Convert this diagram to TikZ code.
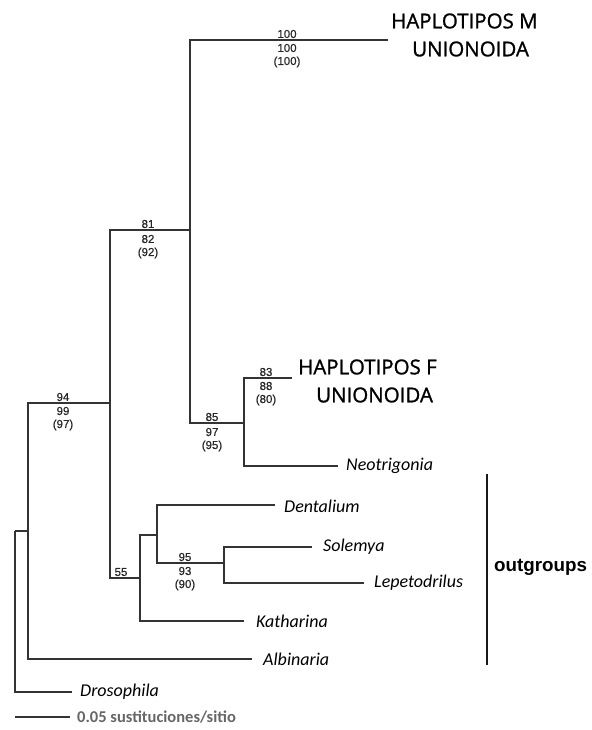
\documentclass[tikz,border=0pt]{standalone}
\usepackage{fontspec}
\setmainfont{Carlito}
\newfontfamily\hapfont[FakeBold=1.2]{Open Sans}
\newfontfamily\numfont[FakeBold=0.6]{Liberation Sans}
\newfontfamily\arialfont{Liberation Sans}
\begin{document}
\begin{tikzpicture}[x=1pt,y=-1pt,
  tree/.style={draw=black!80,line width=1.3pt},
  boot/.style={font=\numfont\fontsize{11.5}{11.5}\selectfont,inner sep=0pt,text=black!85},
  taxon/.style={anchor=west,inner sep=0pt,font=\itshape\fontsize{18}{18}\selectfont},
  clade/.style={anchor=west,inner sep=0pt,font=\hapfont\fontsize{20.5}{20.5}\selectfont},
]
\useasboundingbox (0,0) rectangle (591,730);
% internal nodes
\coordinate (R) at (15,531);
\coordinate (A) at (28,531);
\coordinate (B) at (110,403);
\coordinate (C) at (190,230);
\coordinate (D) at (244,423);
\coordinate (E) at (140,578);
\coordinate (G) at (157,535);
\coordinate (H) at (224,563);
% tips
\coordinate (tM) at (388,40);
\coordinate (tF) at (292,378);
\coordinate (tNeo) at (338,466);
\coordinate (tDen) at (275,505);
\coordinate (tSol) at (312,547);
\coordinate (tLep) at (364,583);
\coordinate (tKat) at (244,621);
\coordinate (tAlb) at (252,659);
\coordinate (tDro) at (72,692);
% branches
\draw[tree] (R) |- (A);
\draw[tree] (R) |- (tDro);
\draw[tree] (A) |- (B);
\draw[tree] (A) |- (tAlb);
\draw[tree] (B) |- (C);
\draw[tree] (B) |- (E);
\draw[tree] (C) |- (tM);
\draw[tree] (C) |- (D);
\draw[tree] (D) |- (tF);
\draw[tree] (D) |- (tNeo);
\draw[tree] (E) |- (G);
\draw[tree] (E) |- (tKat);
\draw[tree] (G) |- (tDen);
\draw[tree] (G) |- (H);
\draw[tree] (H) |- (tSol);
\draw[tree] (H) |- (tLep);
% bootstrap values
\node[boot] (bM1) at (287,34) {100};
\node[boot] (bM2) at (287,48) {100};
\node[boot] (bM3) at (287,62) {(100)};
\node[boot] (bC1) at (148,224) {81};
\node[boot] (bC2) at (148,239) {82};
\node[boot] (bC3) at (148,253) {(92)};
\node[boot] (bB1) at (63,397) {94};
\node[boot] (bB2) at (63,411) {99};
\node[boot] (bB3) at (63,425) {(97)};
\node[boot] (bD1) at (212,417) {85};
\node[boot] (bD2) at (212,432) {97};
\node[boot] (bD3) at (212,446) {(95)};
\node[boot] (bF1) at (266,372) {83};
\node[boot] (bF2) at (266,386) {88};
\node[boot] (bF3) at (266,400) {(80)};
\node[boot] (bH1) at (185,557) {95};
\node[boot] (bH2) at (185,571) {93};
\node[boot] (bH3) at (185,585) {(90)};
\node[boot] (bE1) at (121,572) {55};
% clade labels
\node[clade] (hM1) at (391,21) {HAPLOTIPOS M};
\node[clade] (hM2) at (412,49) {UNIONOIDA};
\node[clade] (hF1) at (298,367) {HAPLOTIPOS F};
\node[clade] (hF2) at (316,395) {UNIONOIDA};
% taxa
\node[taxon] (lNeo) at (346,466) {Neotrigonia};
\node[taxon] (lDen) at (284,506) {Dentalium};
\node[taxon] (lSol) at (323,547) {Solemya};
\node[taxon] (lLep) at (374,583) {Lepetodrilus};
\node[taxon] (lKat) at (256,621) {Katharina};
\node[taxon] (lAlb) at (263,659) {Albinaria};
\node[taxon] (lDro) at (80,692) {Drosophila};
% outgroups bar
\coordinate (oTop) at (487,474);
\coordinate (oBot) at (487,665);
\draw[line width=2.2pt,black!90] (oTop) -- (oBot);
\node[anchor=west,inner sep=0pt,font=\arialfont\bfseries\fontsize{18.8}{18.8}\selectfont] (out) at (494,567) {outgroups};
% scale bar
\coordinate (s0) at (15,717);
\coordinate (s1) at (70,717);
\draw[tree] (s0) -- (s1);
\node[anchor=west,inner sep=0pt,text=black!60,font=\bfseries\fontsize{16.5}{16.5}\selectfont] (sc) at (77,717) {0.05 sustituciones/sitio};
\end{tikzpicture}
\end{document}
